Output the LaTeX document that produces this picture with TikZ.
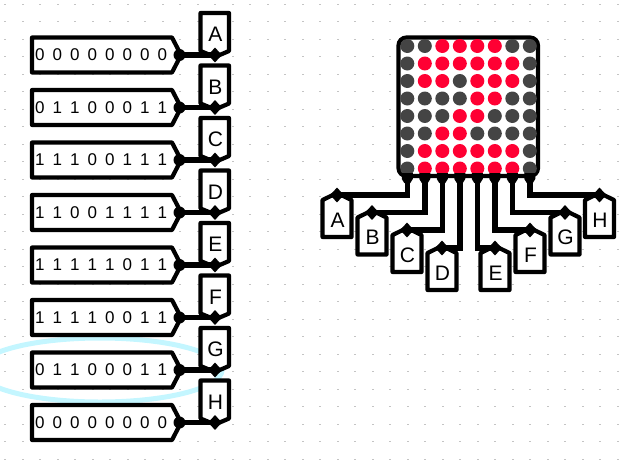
\documentclass[tikz,border=0pt]{standalone}
\usepackage{fontspec}
\setmainfont{Liberation Sans}
\tikzset{
  x=1pt,y=-1pt,
  outline/.style={draw=black,line width=4.2pt,fill=white,line join=round},
  wire/.style={draw=black,line width=5.5pt},
  bits/.style={inner sep=0pt,text height=11.9pt,text depth=0pt,font=\fontsize{17}{17}\selectfont},
  letter/.style={inner sep=0pt,text height=15pt,text depth=0pt,font=\fontsize{21}{21}\selectfont},
  tipdot/.style={circle,fill=black,inner sep=0pt,minimum size=12pt},
  joint/.style={diamond,fill=black,inner sep=0pt,minimum width=14pt,minimum height=15pt},
}
\definecolor{halo}{HTML}{C4F6FF}
\definecolor{ledoff}{HTML}{444444}
\definecolor{ledon}{HTML}{FF0033}
\definecolor{griddot}{HTML}{C4C4C4}
\usetikzlibrary{shapes.geometric}
\begin{document}
\begin{tikzpicture}
\useasboundingbox (0,0) rectangle (631,463);
% dot grid
\foreach \i in {0,...,35}{\foreach \j in {0,...,26}{
  \fill[griddot] ({5+17.5*\i-1},{4+17.5*\j-.5}) rectangle ++(2,1);
}}
% highlight ellipse
\draw[halo,line width=5pt] (100,370) ellipse [x radius=122,y radius=32];
% left column
\foreach \n/\yy/\val/\lab in {
  1/55/0 0 0 0 0 0 0 0/A,
  2/107.5/0 1 1 0 0 0 1 1/B,
  3/160/1 1 1 0 0 1 1 1/C,
  4/212.5/1 1 0 0 1 1 1 1/D,
  5/265/1 1 1 1 1 0 1 1/E,
  6/317.5/1 1 1 1 0 0 1 1/F,
  7/370/0 1 1 0 0 0 1 1/G,
  8/422.5/0 0 0 0 0 0 0 0/H}{
  \path[outline] (32,\yy-17.5) -- (172,\yy-17.5) -- (179.5,\yy-3) -- (179.5,\yy+3) -- (172,\yy+17.5) -- (32,\yy+17.5) -- cycle;
  \node[bits] (word\n) at (101,\yy) {\spaceskip=8.05pt\relax \val};
  \path[outline] (200.5,\yy-42) -- (229,\yy-42) -- (229,\yy-4) -- (215,\yy+2) -- (200.5,\yy-4) -- cycle;
  \node[letter] (pin\n) at (215.5,\yy-21) {\lab};
  \node[tipdot] (wtip\n) at (179.5,\yy) {};
  \node[joint] (pjoint\n) at (215,\yy) {};
  \draw[wire] (wtip\n.center) -- (pjoint\n.center);
}
% matrix
\draw[black,line width=4.2pt,fill=white,rounded corners=8pt] (398.5,37.5) rectangle (538,176);
\foreach \r/\row in {0/{0,0,1,1,1,1,0,0},1/{0,1,1,1,1,1,1,0},2/{0,1,1,0,1,1,1,0},3/{0,0,0,0,1,1,0,0},4/{0,0,0,1,1,0,0,0},5/{0,0,1,1,0,0,0,0},6/{0,1,1,1,1,1,1,0},7/{0,1,1,1,1,1,1,0}}{
  \foreach \v [count=\c from 0] in \row {
    \ifnum\v=1 \def\ledcol{ledon}\else \def\ledcol{ledoff}\fi
    \fill[\ledcol] ({407.3+17.5*\c},{46+17.5*\r}) circle [radius=7];
  }
}
% bottom pins
\foreach \n/\px/\wy/\lab/\mx in {
  1/337/195/A/407.3,
  2/372/212.5/B/424.8,
  3/407/230/C/442.3,
  4/442/248/D/459.8,
  5/495/248/E/477.3,
  6/530/230/F/494.8,
  7/565/212.5/G/512.3,
  8/599.5/195/H/529.8}{
  \path[outline] (\px,\wy-2) -- (\px+14.5,\wy+5) -- (\px+14.5,\wy+42) -- (\px-14.5,\wy+42) -- (\px-14.5,\wy+5) -- cycle;
  \node[letter] (out\n) at (\px+.5,\wy+24.5) {\lab};
  \fill[black] (\mx-5.5,173) -- (\mx+5.5,173) -- (\mx+5.5,179) -- (\mx+3,183) -- (\mx-3,183) -- (\mx-5.5,179) -- cycle;
  \coordinate (mpin\n) at (\mx,176);
  \node[joint] (ojoint\n) at (\px,\wy) {};
  \draw[wire] (mpin\n) |- (ojoint\n.center);
}
\end{tikzpicture}
\end{document}
